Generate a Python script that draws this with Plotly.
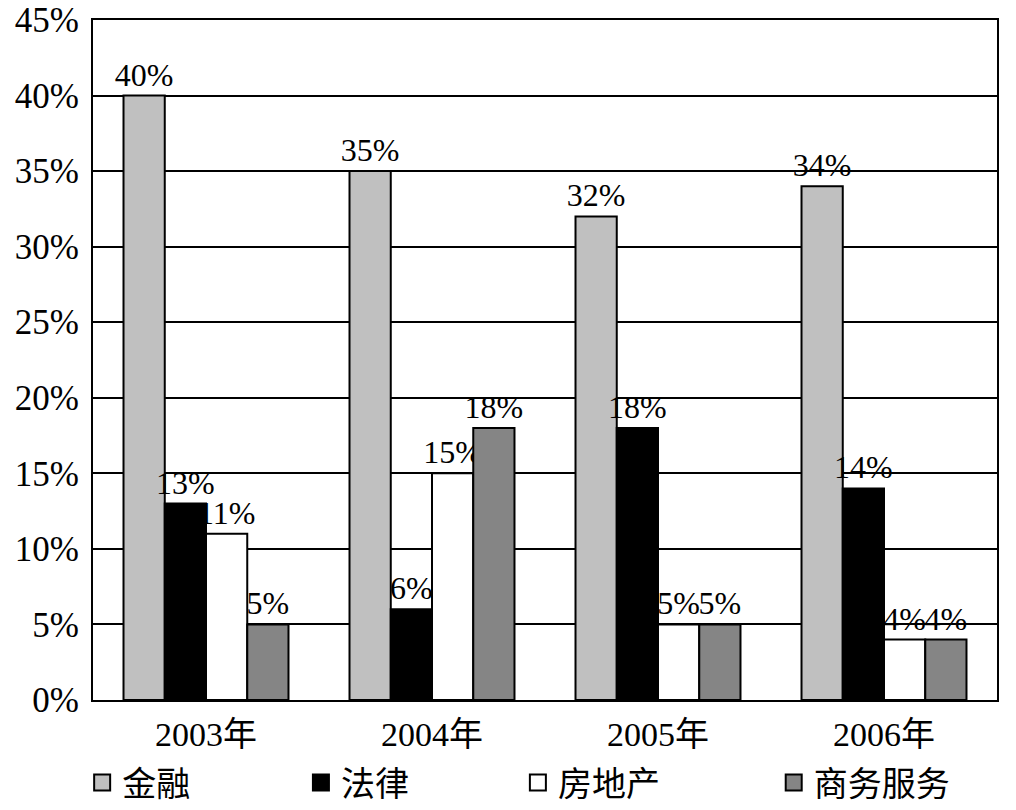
import plotly.graph_objects as go

years = ['2003年', '2004年', '2005年', '2006年']
series = ['金融', '法律', '房地产', '商务服务']
jinrong = [40, 35, 32, 34]
falv = [13, 6, 18, 14]
fangdichan = [11, 15, 5, 4]
shangwu = [5, 18, 5, 4]
y_ticks = [0, 5, 10, 15, 20, 25, 30, 35, 40, 45]

colors = ['#c0c0c0', '#000000', '#ffffff', '#858585']
values = [jinrong, falv, fangdichan, shangwu]
legend_ids = ['legend', 'legend2', 'legend3', 'legend4']
legend_x = [-0.012, 0.23, 0.47, 0.753]

serif = 'Liberation Serif, Times New Roman, Noto Sans CJK SC, serif'

fig = go.Figure()
for name, vals, c, lg in zip(series, values, colors, legend_ids):
    fig.add_trace(go.Bar(x=years, y=vals, name=name, showlegend=False,
                         marker=dict(color=c, line=dict(color='black', width=2)),
                         text=[f'{v}%' for v in vals], textposition='outside',
                         constraintext='none', cliponaxis=False,
                         textfont=dict(family=serif, size=32, color='black')))
    # legend entry with a bigger square, one legend each so they can be placed
    fig.add_trace(go.Scatter(x=[None], y=[None], mode='markers', name=name, legend=lg,
                             marker=dict(symbol='square', size=23, color=c,
                                         line=dict(color='black', width=2))))

legend_common = dict(orientation='h', xanchor='left', y=-0.122, yanchor='middle',
                     itemsizing='trace', bgcolor='rgba(0,0,0,0)',
                     font=dict(family='Noto Sans CJK SC', size=34, color='black'))

fig.update_layout(
    width=1016, height=810,
    margin=dict(l=93, r=19, t=20, b=110, autoexpand=False),
    paper_bgcolor='white', plot_bgcolor='white',
    barmode='group', bargap=0.27, bargroupgap=0,
    font=dict(family=serif, size=34, color='black'),
    showlegend=True,
    legend=dict(x=legend_x[0], **legend_common),
    legend2=dict(x=legend_x[1], **legend_common),
    legend3=dict(x=legend_x[2], **legend_common),
    legend4=dict(x=legend_x[3], **legend_common),
    xaxis=dict(showline=True, linecolor='black', linewidth=2, mirror=True,
               ticks='', ticklabelstandoff=3, tickfont=dict(family=serif, size=34)),
    yaxis=dict(range=[0, 45], tickvals=y_ticks, ticktext=[f'{t}%' for t in y_ticks],
               showgrid=True, gridcolor='black', gridwidth=2,
               showline=True, linecolor='black', linewidth=2, mirror=True,
               ticks='', ticklabelstandoff=5, ticklabeloverflow='allow',
               tickfont=dict(family=serif, size=35), zeroline=False),
)

# drop the default 8px page margin so the figure sits at the window corner
fig.write_html('out.html', config={'displayModeBar': False},
               post_script="document.body.style.margin='0';")
